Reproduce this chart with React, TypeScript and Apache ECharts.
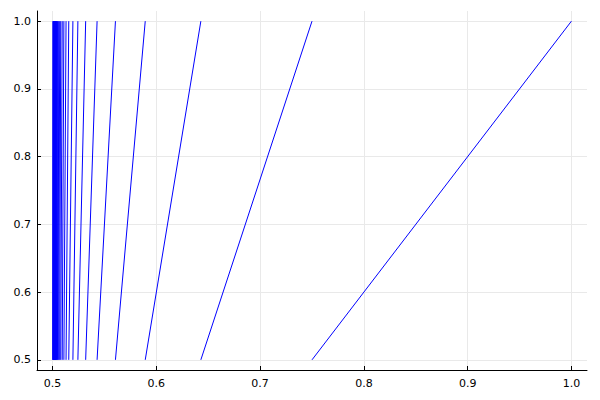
import React, { useEffect, useRef } from "react";
import * as echarts from "echarts";

// x positions of the sequence; each segment joins (x[i], 1.0) to (x[i+1], 0.5)
const xValues: number[] = [
  1.0, 0.75, 0.6429, 0.5893, 0.5606, 0.5429, 0.5319, 0.5244, 0.5196, 0.5156,
  0.513, 0.5109, 0.5093, 0.5079, 0.5069, 0.506, 0.5053, 0.5047, 0.5042, 0.5038,
  0.5034, 0.5031, 0.5028, 0.5026, 0.5023, 0.5021, 0.502, 0.5018, 0.5017, 0.5016,
  0.5014, 0.5012, 0.501, 0.5008, 0.5006, 0.5004, 0.5002,
];
const yTop = 1.0;
const yBottom = 0.5;
const xTicks: number[] = [0.5, 0.6, 0.7, 0.8, 0.9, 1.0];
const yTicks: number[] = [0.5, 0.6, 0.7, 0.8, 0.9, 1.0];

export default function App() {
  const ref = useRef<HTMLDivElement>(null);
  useEffect(() => {
    if (!ref.current) return;
    const chart = echarts.init(ref.current, null, { renderer: "svg" });
    const data: any[] = [];
    for (let i = 0; i < xValues.length - 1; i++) {
      data.push([xValues[i], yTop]);
      data.push([xValues[i + 1], yBottom]);
      data.push(["-", "-"]);
    }
    const axisCommon = {
      type: "value" as const,
      axisLine: { show: true, onZero: false, lineStyle: { color: "#000", width: 1 } },
      axisTick: { show: true, inside: true, length: 4, lineStyle: { color: "#000" } },
      splitLine: { show: true, lineStyle: { color: "#e9e9e9", width: 1 } },
      axisLabel: {
        color: "#000",
        fontSize: 11,
        fontFamily: "DejaVu Sans",
        formatter: (v: number) => v.toFixed(1),
      },
    };
    chart.setOption({
      animation: false,
      backgroundColor: "#fff",
      grid: { left: 37, right: 13, top: 11, bottom: 30, containLabel: false },
      xAxis: {
        ...axisCommon,
        min: 0.485,
        max: 1.015,
        axisTick: { ...axisCommon.axisTick, customValues: xTicks },
        axisLabel: { ...axisCommon.axisLabel, customValues: xTicks, margin: 8 },
      },
      yAxis: {
        ...axisCommon,
        min: 0.485,
        max: 1.015,
        axisTick: { ...axisCommon.axisTick, customValues: yTicks },
        axisLabel: { ...axisCommon.axisLabel, customValues: yTicks, margin: 6 },
      },
      series: [
        {
          type: "line",
          data,
          showSymbol: false,
          symbol: "none",
          connectNulls: false,
          lineStyle: { color: "#0000ff", width: 1 },
        },
      ],
    });
    return () => chart.dispose();
  }, []);
  return <div ref={ref} style={{ width: 600, height: 400, position: "absolute", left: 0, top: 0 }} />;
}
